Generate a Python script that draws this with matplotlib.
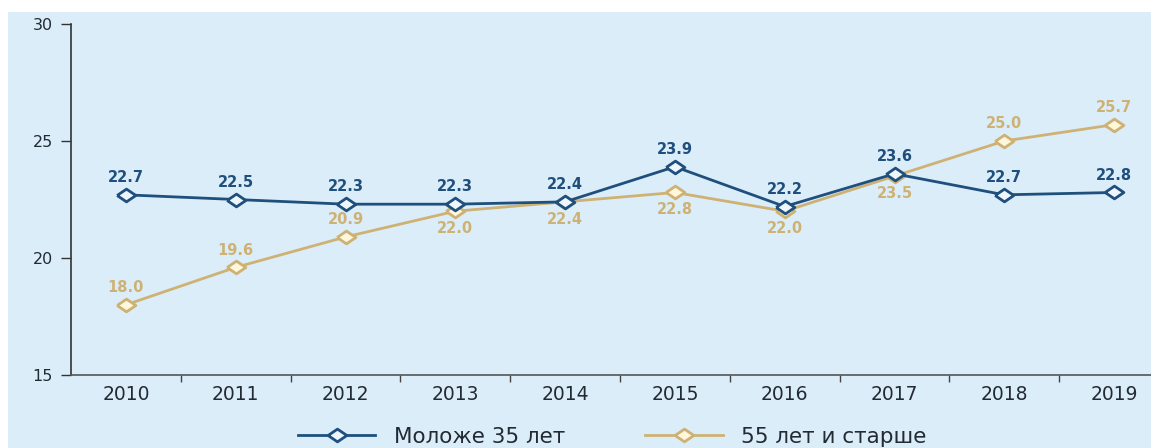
import matplotlib.pyplot as plt
from matplotlib.lines import Line2D
from matplotlib.patches import Rectangle

plt.rcParams['font.family'] = ['DejaVu Sans']

# ---- данные ----
years = ['2010', '2011', '2012', '2013', '2014', '2015', '2016', '2017', '2018', '2019']
young = [22.7, 22.5, 22.3, 22.3, 22.4, 23.9, 22.2, 23.6, 22.7, 22.8]
old = [18.0, 19.6, 20.9, 22.0, 22.4, 22.8, 22.0, 23.5, 25.0, 25.7]
old_below = [False, False, False, True, True, True, True, True, False, False]

labels = ['Моложе 35 лет', '55 лет и старше']

BG = '#dcedfa'
BLUE = '#1f4f7c'
GOLD = '#ceb274'
DARK = '#222a33'

# ромб, растянутый по горизонтали
DIAMOND = [(-1, 0), (0, 0.68), (1, 0), (0, -0.68), (-1, 0)]

fig = plt.figure(figsize=(11.51, 4.48), dpi=100)
fig.patch.set_facecolor('white')
fig.add_artist(Rectangle((8 / 1151, 0), 1, 1 - 12 / 448, transform=fig.transFigure,
                         facecolor=BG, edgecolor='none', zorder=-5))

ax = fig.add_axes([71 / 1151, 1 - 375 / 448, 1 - 71 / 1151, (375 - 24) / 448])
ax.set_facecolor(BG)

x = list(range(len(years)))
ax.plot(x, old, color=GOLD, lw=2, marker=DIAMOND, ms=13.5, mfc='#fff7dc', mec=GOLD, mew=2, zorder=3)
ax.plot(x, young, color=BLUE, lw=2, marker=DIAMOND, ms=13.5, mfc='#eef6fc', mec=BLUE, mew=2, zorder=4)

for i, v in enumerate(young):
    ax.annotate(f'{v:.1f}', (i, v), xytext=(0, 7), textcoords='offset points',
                ha='center', va='bottom', fontsize=10.5, fontweight='bold', color=BLUE)
for i, v in enumerate(old):
    if old_below[i]:
        ax.annotate(f'{v:.1f}', (i, v), xytext=(0, -7), textcoords='offset points',
                    ha='center', va='top', fontsize=10.5, fontweight='bold', color=GOLD)
    else:
        ax.annotate(f'{v:.1f}', (i, v), xytext=(0, 7), textcoords='offset points',
                    ha='center', va='bottom', fontsize=10.5, fontweight='bold', color=GOLD)

# оси
ax.set_ylim(15, 30)
ax.set_yticks([15, 20, 25, 30])
ax.set_xlim(-0.5, 9.5 - 18 / 109.8)
ax.set_xticks(x)
ax.set_xticklabels(years, fontsize=13.5, color=DARK)
ax.set_xticks([i + 0.5 for i in range(9)], minor=True)
ax.tick_params(axis='x', which='major', length=0, pad=7)
ax.tick_params(axis='x', which='minor', length=5, width=1, color='#444444')
ax.tick_params(axis='y', length=7, width=1, color='#333333', labelsize=11.5, labelcolor=DARK, pad=6)

for s in ['top', 'right']:
    ax.spines[s].set_visible(False)
ax.spines['left'].set_color('#333333')
ax.spines['bottom'].set_color('#555555')
ax.spines['left'].set_linewidth(1.2)
ax.spines['bottom'].set_linewidth(1.2)

handles = [
    Line2D([], [], color=BLUE, lw=2, marker=DIAMOND, ms=13.5, mfc='#eef6fc', mec=BLUE, mew=2),
    Line2D([], [], color=GOLD, lw=2, marker=DIAMOND, ms=13.5, mfc='#fff7dc', mec=GOLD, mew=2),
]
leg = fig.legend(handles, labels, loc='center left', bbox_to_anchor=(298 / 1151, 1 - 437 / 448),
                 ncol=2, frameon=False, fontsize=15.5, borderpad=0, borderaxespad=0,
                 handlelength=3.6, columnspacing=3.73, handletextpad=0.84)
for t in leg.get_texts():
    t.set_color(DARK)

fig.savefig('out.png', dpi=100, facecolor=fig.get_facecolor())
